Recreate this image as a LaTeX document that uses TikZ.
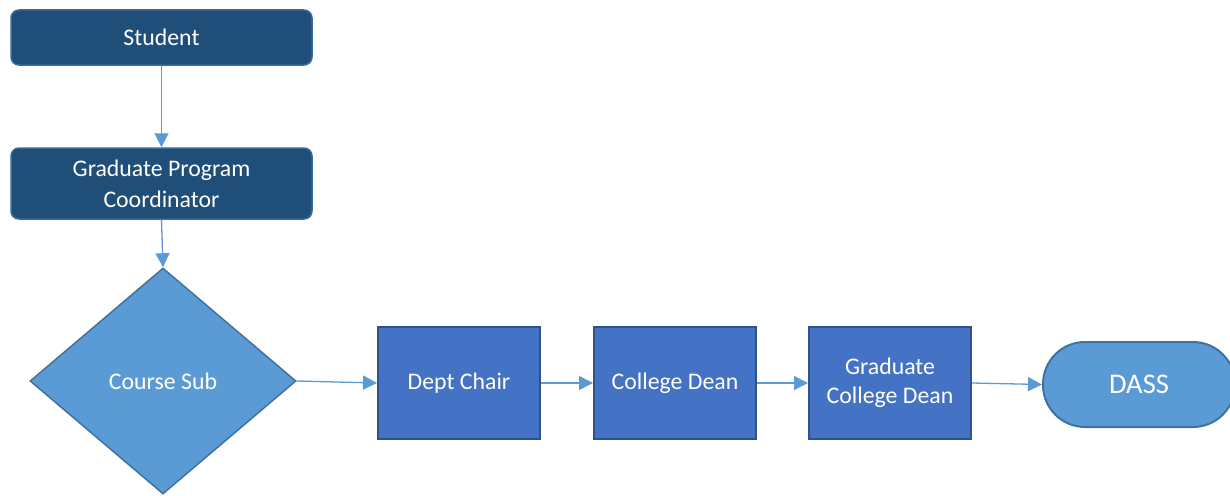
\documentclass[tikz,border=0pt]{standalone}
\usepackage{fontspec}
\setmainfont{Carlito}
\usetikzlibrary{shapes.geometric,arrows.meta}
\definecolor{darkbox}{HTML}{1F4E79}
\definecolor{darkedge}{HTML}{3A6A9C}
\definecolor{midbox}{HTML}{4472C4}
\definecolor{midedge}{HTML}{2F528F}
\definecolor{lightbox}{HTML}{5B9BD5}
\definecolor{lightedge}{HTML}{41719C}
\definecolor{conn}{HTML}{5B9BD5}
\tikzset{
  topbox/.style={rectangle, rounded corners=8pt, fill=darkbox, draw=darkedge, line width=1.5pt,
    minimum width=301pt, text=white, font=\fontsize{23.8}{31}\selectfont, align=center, inner sep=0pt},
  procbox/.style={rectangle, fill=midbox, draw=midedge, line width=2pt,
    minimum width=162pt, minimum height=112pt, text=white, font=\fontsize{23.8}{29}\selectfont, align=center, inner sep=0pt},
  decbox/.style={diamond, fill=lightbox, draw=lightedge, line width=1.5pt, aspect=1.177,
    minimum width=266pt, minimum height=226pt, inner sep=0pt, text=white, font=\fontsize{23.8}{29}\selectfont},
  termbox/.style={rectangle, rounded corners=42pt, fill=lightbox, draw=lightedge, line width=2pt,
    minimum width=192pt, minimum height=85pt, text=white, font=\fontsize{28.5}{32}\selectfont, inner sep=0pt},
  conn/.style={draw=conn, line width=1.3pt, -{Triangle[length=14pt,width=14pt]}}
}
\begin{document}
\begin{tikzpicture}[x=1pt,y=-1pt]
\useasboundingbox (0,0) rectangle (1230,495);
\node[topbox, minimum height=55pt] (student) at (161.5,37.5) {Student};
\node[topbox, minimum height=71pt] (gpc) at (161.5,183.5) {Graduate Program\\Coordinator};
\node[decbox] (cs) at (163,381) {Course Sub};
\node[procbox] (dept) at (459,383) {Dept Chair};
\node[procbox] (cdean) at (675,383) {College Dean};
\node[procbox] (gcd) at (890,383) {Graduate\\College Dean};
\node[termbox] (dass) at (1139,384.5) {DASS};
\draw[conn] (student.south) -- (gpc.north);
\draw[conn] (gpc.south) -- (cs.north);
\draw[conn] (cs.east) -- (dept.west);
\draw[conn] (dept.east) -- (cdean.west);
\draw[conn] (cdean.east) -- (gcd.west);
\draw[conn] (gcd.east) -- (dass.west);
\end{tikzpicture}
\end{document}
